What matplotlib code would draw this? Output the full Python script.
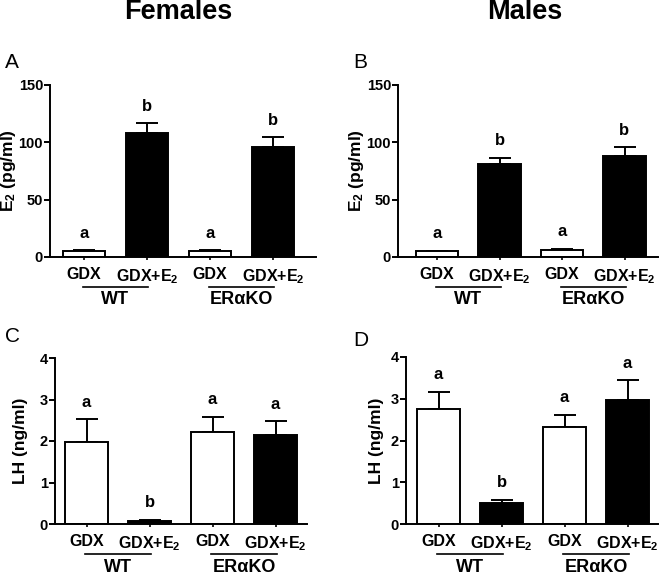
import matplotlib
matplotlib.use("Agg")
import matplotlib.pyplot as plt
import matplotlib.transforms as mtransforms
import numpy as np

plt.rcParams['font.family'] = ['Liberation Sans', 'DejaVu Sans']
plt.rcParams['font.weight'] = 'bold'
plt.rcParams['mathtext.fontset'] = 'custom'
plt.rcParams['mathtext.rm'] = 'Liberation Sans:bold'
plt.rcParams['mathtext.bf'] = 'Liberation Sans:bold'
plt.rcParams['mathtext.it'] = 'Liberation Sans:bold'
plt.rcParams['mathtext.default'] = 'bf'

# data
treatments = ['GDX', 'GDX+E$_2$', 'GDX', 'GDX+E$_2$']
genotypes = ['WT', 'ER\u03b1KO']
bar_fill = ['white', 'black', 'white', 'black']

e2_female = [5, 108, 5, 95.5]
e2_female_sem = [1, 8.5, 1, 9]
e2_male = [5, 81, 6, 88.5]
e2_male_sem = [0.5, 5.5, 1, 7]
lh_female = [1.98, 0.07, 2.22, 2.15]
lh_female_sem = [0.54, 0.03, 0.37, 0.32]
lh_male = [2.76, 0.5, 2.32, 2.96]
lh_male_sem = [0.41, 0.08, 0.30, 0.48]

sig_e2_female = ['a', 'b', 'a', 'b']
sig_e2_male = ['a', 'b', 'a', 'b']
sig_lh_female = ['a', 'b', 'a', 'a']
sig_lh_male = ['a', 'b', 'a', 'a']

W, H = 660, 575
fig = plt.figure(figsize=(W / 100, H / 100), dpi=100)


def panel(left, right, top, bottom, x0, step, label_x, vals, errs, sig, ymax, yticks, ylabel):
    ax = fig.add_axes([left / W, 1 - bottom / H, (right - left) / W, (bottom - top) / H])
    x = np.arange(len(vals))
    ax.bar(x, vals, width=0.68, color=bar_fill, edgecolor='black', linewidth=1.4, zorder=2)
    ax.errorbar(x, vals, yerr=[np.zeros(len(vals)), errs], fmt='none', ecolor='black',
                elinewidth=1.4, capsize=8, capthick=1.4, zorder=1)
    for xi, v, e, s in zip(x, vals, errs, sig):
        ax.annotate(s, (xi, v + e), xytext=(0, 9), textcoords='offset points',
                    ha='center', va='baseline', fontsize=12, fontweight='bold')
    ax.set_xlim((left - x0) / step, (right - x0) / step)
    ax.set_ylim(0, ymax)
    ax.set_yticks(yticks)
    ax.set_xticks(x)
    ax.set_xticklabels(treatments, fontsize=11.5, fontweight='bold')
    ax.tick_params(axis='x', length=2.5, width=1.2, pad=5)
    ax.tick_params(axis='y', length=4, width=1.4, pad=1, labelsize=10.5)
    for lab in ax.get_yticklabels():
        lab.set_fontweight('bold')
    ax.spines['top'].set_visible(False)
    ax.spines['right'].set_visible(False)
    ax.spines['left'].set_linewidth(1.4)
    ax.spines['bottom'].set_linewidth(1.4)
    ax.set_ylabel(ylabel, fontsize=12.5, fontweight='bold')
    ax.yaxis.set_label_coords((label_x - left) / (right - left), 0.5)
    ax.yaxis.label.set_verticalalignment('center')
    base = mtransforms.blended_transform_factory(ax.transData, ax.transAxes)
    line_t = base + mtransforms.ScaledTranslation(0, -0.30, fig.dpi_scale_trans)
    text_t = base + mtransforms.ScaledTranslation(0, -0.43, fig.dpi_scale_trans)
    for g, name in enumerate(genotypes):
        c = 2 * g + 0.5
        ax.plot([c - 0.52, c + 0.52], [0, 0], color='black', lw=1.2,
                transform=line_t, clip_on=False)
        ax.text(c, 0, name, transform=text_t, ha='center', va='center',
                fontsize=13, fontweight='bold')
    return ax


panel(50, 316, 85, 257, 84, 63, 9, e2_female, e2_female_sem, sig_e2_female,
      150, [0, 50, 100, 150], 'E$_2$ (pg/ml)')
panel(398, 658, 85, 257, 437, 62.5, 357, e2_male, e2_male_sem, sig_e2_male,
      150, [0, 50, 100, 150], 'E$_2$ (pg/ml)')
panel(55, 307, 358, 524, 86.5, 63, 21, lh_female, lh_female_sem, sig_lh_female,
      4, [0, 1, 2, 3, 4], 'LH (ng/ml)')
panel(406, 658, 357, 524, 438.5, 63, 377, lh_male, lh_male_sem, sig_lh_male,
      4, [0, 1, 2, 3, 4], 'LH (ng/ml)')

fig.text(178 / W, 1 - 19 / H, 'Females', ha='center', va='baseline',
         fontsize=19.5, fontweight='bold')
fig.text(525 / W, 1 - 19 / H, 'Males', ha='center', va='baseline',
         fontsize=19.5, fontweight='bold')
for lx, ly, s in [(5, 62, 'A'), (353, 62, 'B'), (5, 337, 'C'), (353, 340, 'D')]:
    fig.text(lx / W, 1 - ly / H, s, ha='left', va='center', fontsize=15,
             fontweight='normal')

fig.savefig('out.png', dpi=100)
